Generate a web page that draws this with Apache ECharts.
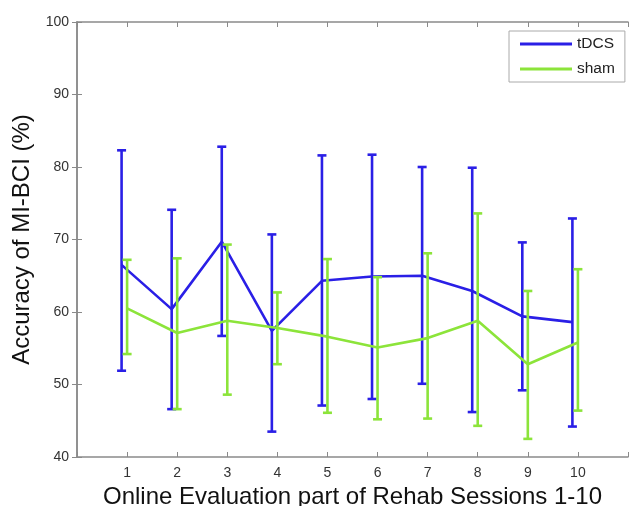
<!DOCTYPE html>
<html>
<head>
<meta charset="utf-8">
<script src="https://cdn.jsdelivr.net/npm/echarts@6/dist/echarts.min.js"></script>
<style>
html,body{margin:0;padding:0;background:#fff;}
#chart{width:631px;height:506px;}
</style>
</head>
<body>
<div id="chart"></div>
<script>
const sessions = [1, 2, 3, 4, 5, 6, 7, 8, 9, 10];
const tdcsMean = [66.5, 60.4, 69.7, 57.4, 64.3, 64.9, 65.0, 62.9, 59.4, 58.6];
const tdcsLow  = [51.9, 46.6, 56.7, 43.5, 47.1, 48.0, 50.1, 46.2, 49.2, 44.2];
const tdcsHigh = [82.3, 74.1, 82.8, 70.7, 81.6, 81.7, 80.0, 79.9, 69.6, 72.9];
const shamMean = [60.5, 57.1, 58.8, 57.8, 56.6, 55.1, 56.4, 58.8, 52.8, 55.8];
const shamLow  = [54.2, 46.6, 48.6, 52.8, 46.1, 45.2, 45.3, 44.3, 42.5, 46.4];
const shamHigh = [67.2, 67.4, 69.3, 62.7, 67.3, 64.8, 68.1, 73.6, 62.9, 65.9];
const yTicks = [40, 50, 60, 70, 80, 90, 100];

const BLUE = '#2a1fe6';
const GREEN = '#8ce43a';
const blueOffset = -0.11;

const chart = echarts.init(document.getElementById('chart'), null, {renderer: 'canvas'});

function errData(offset, lows, highs) {
  return sessions.map((s, i) => [s + offset, lows[i], highs[i]]);
}
function lineData(offset, means) {
  return sessions.map((s, i) => [s + offset, means[i]]);
}
function makeRender(color) {
  return function (params, api) {
    const x = api.value(0);
    const lo = api.coord([x, api.value(1)]);
    const hi = api.coord([x, api.value(2)]);
    const hw = 4.5;
    const st = {stroke: color, lineWidth: 2.6};
    return {
      type: 'group',
      children: [
        {type: 'line', shape: {x1: lo[0], y1: lo[1], x2: hi[0], y2: hi[1]}, style: st},
        {type: 'line', shape: {x1: lo[0] - hw, y1: lo[1], x2: lo[0] + hw, y2: lo[1]}, style: st},
        {type: 'line', shape: {x1: hi[0] - hw, y1: hi[1], x2: hi[0] + hw, y2: hi[1]}, style: st}
      ]
    };
  };
}

const axisColor = '#8a8a8a';
const FONT = 'Liberation Sans, Arial, sans-serif';
const labelStyle = {color: '#333', fontSize: 14, fontFamily: FONT};

const option = {
  animation: false,
  backgroundColor: '#fff',
  grid: {left: 77, top: 22, right: 3, bottom: 49, show: false, containLabel: false, outerBoundsMode: 'none'},
  legend: {
    data: ['tDCS', 'sham'],
    orient: 'vertical',
    left: 509,
    top: 31,
    itemWidth: 52,
    itemHeight: 3,
    itemGap: 9,
    icon: 'rect',
    padding: [5, 10, 5, 11],
    borderColor: '#aaa',
    borderWidth: 1,
    backgroundColor: '#fff',
    textStyle: {color: '#222', fontSize: 15.5, fontFamily: FONT}
  },
  xAxis: [{
    type: 'value',
    min: 0, max: 11, interval: 1,
    position: 'bottom',
    name: 'Online Evaluation part of Rehab Sessions 1-10',
    nameLocation: 'middle',
    nameGap: 20,
    nameTextStyle: {color: '#111', fontSize: 24, fontFamily: FONT, verticalAlign: 'top'},
    axisLine: {show: true, lineStyle: {color: axisColor, width: 1.5}},
    axisTick: {show: true, inside: true, length: 5, lineStyle: {color: axisColor}},
    axisLabel: Object.assign({margin: 9, formatter: v => (v >= 1 && v <= 10) ? String(v) : ''}, labelStyle),
    splitLine: {show: false}
  }, {
    type: 'value',
    min: 0, max: 11, interval: 1,
    position: 'top',
    axisLine: {show: true, lineStyle: {color: axisColor, width: 1.5}},
    axisTick: {show: true, inside: true, length: 5, lineStyle: {color: axisColor}},
    axisLabel: {show: false},
    splitLine: {show: false}
  }],
  yAxis: [{
    type: 'value',
    min: yTicks[0], max: yTicks[yTicks.length - 1], interval: 10,
    position: 'left',
    name: 'Accuracy of MI-BCI (%)',
    nameLocation: 'middle',
    nameGap: 43,
    nameTextStyle: {color: '#111', fontSize: 24, fontFamily: FONT},
    axisLine: {show: true, lineStyle: {color: axisColor, width: 1.5}},
    axisTick: {show: true, inside: true, length: 5, lineStyle: {color: axisColor}},
    axisLabel: Object.assign({margin: 8}, labelStyle),
    splitLine: {show: false}
  }, {
    type: 'value',
    min: yTicks[0], max: yTicks[yTicks.length - 1], interval: 10,
    position: 'right',
    axisLine: {show: true, lineStyle: {color: axisColor, width: 1.5}},
    axisTick: {show: true, inside: true, length: 5, lineStyle: {color: axisColor}},
    axisLabel: {show: false},
    splitLine: {show: false}
  }],
  series: [
    {
      name: 'tDCS err', type: 'custom', xAxisIndex: 0, yAxisIndex: 0,
      renderItem: makeRender(BLUE),
      encode: {x: 0, y: [1, 2]},
      data: errData(blueOffset, tdcsLow, tdcsHigh),
      z: 2
    },
    {
      name: 'tDCS', type: 'line', xAxisIndex: 0, yAxisIndex: 0,
      data: lineData(blueOffset, tdcsMean),
      symbol: 'none',
      color: BLUE,
      lineStyle: {color: BLUE, width: 2.6},
      z: 3
    },
    {
      name: 'sham err', type: 'custom', xAxisIndex: 0, yAxisIndex: 0,
      renderItem: makeRender(GREEN),
      encode: {x: 0, y: [1, 2]},
      data: errData(0, shamLow, shamHigh),
      z: 4
    },
    {
      name: 'sham', type: 'line', xAxisIndex: 0, yAxisIndex: 0,
      data: lineData(0, shamMean),
      symbol: 'none',
      color: GREEN,
      lineStyle: {color: GREEN, width: 2.6},
      z: 5
    }
  ]
};
chart.setOption(option);
</script>
</body>
</html>
